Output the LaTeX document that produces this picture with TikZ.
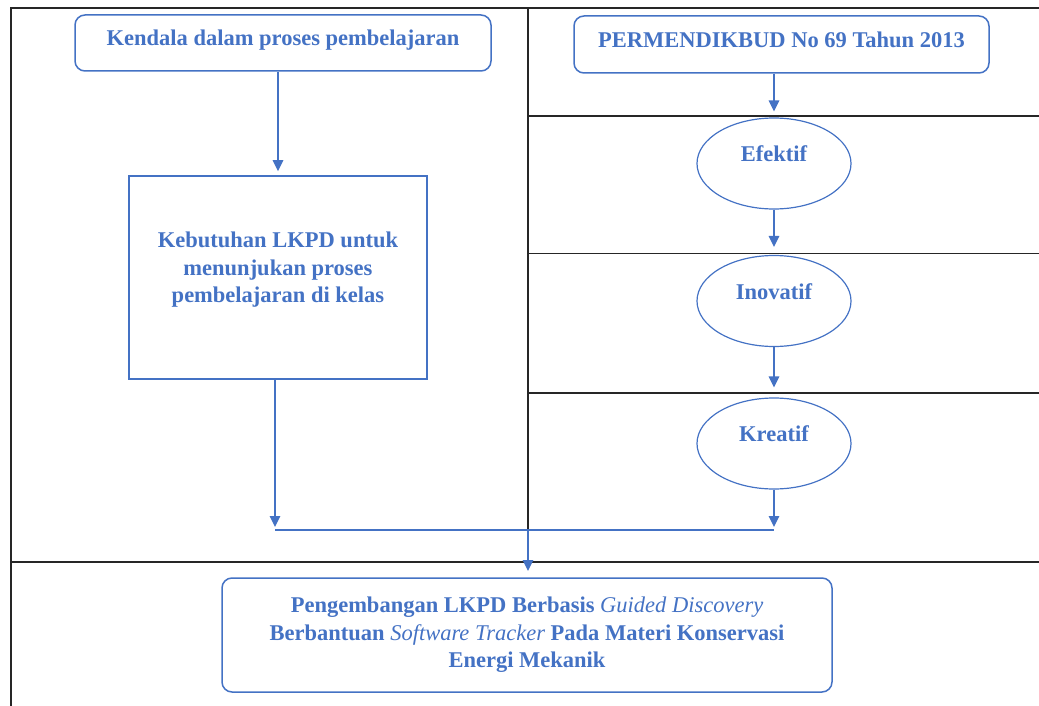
\documentclass[tikz,border=0pt]{standalone}
\usepackage{fontspec}
\setmainfont{Liberation Serif}
\usetikzlibrary{arrows.meta,shapes.geometric,calc}
\definecolor{wblue}{HTML}{4472C4}
\definecolor{frameblack}{HTML}{262626}
\begin{document}
\begin{tikzpicture}[x=1pt,y=-1pt,
  every node/.style={font=\fontsize{22.5}{27.5}\selectfont\bfseries, text=wblue},
  frameline/.style={draw=frameblack, line width=1.8pt},
  roundbox/.style={draw=wblue, line width=1.5pt, rounded corners=10pt, inner sep=0pt},
  sqbox/.style={draw=wblue, line width=1.5pt, inner sep=0pt},
  oval/.style={ellipse, draw=wblue, line width=1.2pt, inner sep=0pt,
    minimum width=154pt, minimum height=91pt, text height=16pt, text depth=20pt},
  flow/.style={draw=wblue, line width=1.5pt, -{Triangle[length=11pt,width=10.5pt]}},
  plain/.style={draw=wblue, line width=1.5pt}
]
\useasboundingbox (0,0) rectangle (1039,706);

% frame / table lines
\draw[frameline] (11,706) -- (11,8) -- (1039,8);
\draw[frameline] (11,561.7) -- (1039,561.7);
\draw[frameline] (528,8) -- (528,561.7);
\draw[frameline] (528,116) -- (1039,116);
\draw[frameline] (528,253.5) -- (1039,253.5);
\draw[frameline] (528,393) -- (1039,393);

% left column
\node[roundbox, minimum width=416pt, minimum height=56pt, text depth=10pt] (ken) at (283,43)
  {Kendala dalam proses pembelajaran};
\node[sqbox, minimum width=298pt, minimum height=203pt] (keb) at (278,277.5) {};
\node[align=center] (kebtxt) at ([yshift=7.5pt]keb.center)
  {Kebutuhan LKPD untuk\\menunjukan proses\\pembelajaran di kelas};

% right column
\node[roundbox, minimum width=415pt, minimum height=57pt, text depth=9pt] (perm) at (781.5,44.5)
  {PERMENDIKBUD No 69 Tahun 2013};
\node[oval] (efk) at (774,163.5) {Efektif};
\node[oval] (ino) at (774,301) {Inovatif};
\node[oval] (kre) at (774,443.5) {Kreatif};

% bottom
\node[roundbox, minimum width=610pt, minimum height=114pt, align=center] (hasil) at (527,635)
  {Pengembangan LKPD Berbasis {\mdseries\itshape Guided Discovery}\\
   Berbantuan {\mdseries\itshape Software Tracker} Pada Materi Konservasi\\
   Energi Mekanik};

% junction coordinates
\coordinate (jl) at (275,530);
\coordinate (jr) at (774,530);
\coordinate (jm) at (528,530);
\coordinate (jmt) at (528,571);

% connectors
\draw[flow, shorten >=4pt] (ken.south -| keb.north) -- (keb.north);
\draw[flow, shorten >=6pt] (perm.south -| efk.north) -- (efk.north);
\draw[flow, shorten >=8pt] (efk.south) -- (ino.north);
\draw[flow, shorten >=10pt] (ino.south) -- (kre.north);
\draw[flow, shorten >=3pt] (keb.south -| jl) -- (jl);
\draw[flow, shorten >=3pt] (kre.south) -- (jr);
\draw[plain] (jl) -- (jr);
\draw[flow] (jm) -- (jmt);
\end{tikzpicture}
\end{document}
